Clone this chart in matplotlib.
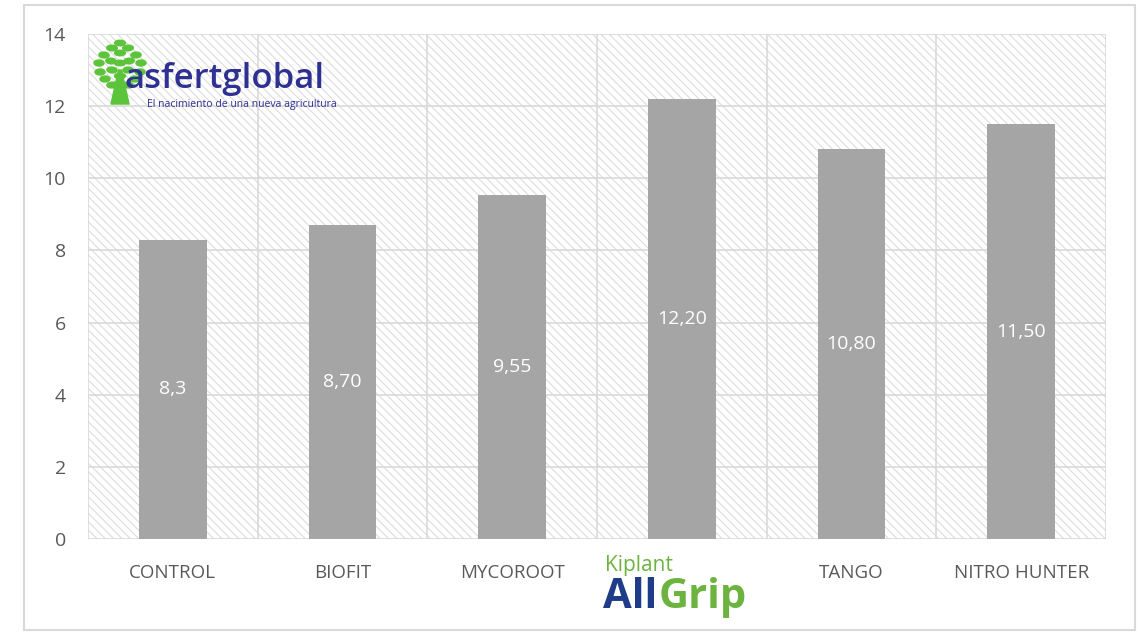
import matplotlib.pyplot as plt
from matplotlib.patches import Rectangle, Ellipse, Polygon
import numpy as np

# data
categories = ['CONTROL', 'BIOFIT', 'MYCOROOT', '', 'TANGO', 'NITRO HUNTER']
values = [8.3, 8.7, 9.55, 12.2, 10.8, 11.5]
value_labels = ['8,3', '8,70', '9,55', '12,20', '10,80', '11,50']
yticks = [0, 2, 4, 6, 8, 10, 12, 14]

plt.rcParams['font.family'] = ['Open Sans', 'DejaVu Sans']
plt.rcParams['hatch.linewidth'] = 0.8
plt.rcParams['hatch.color'] = '#dcdcdc'

fig = plt.figure(figsize=(11.45, 6.32), dpi=100)
# outer frame
fig.patches.append(Rectangle((24 / 1145, 2 / 632), 1111 / 1145, 625 / 632,
                             transform=fig.transFigure, fill=False,
                             edgecolor='#d9d9d9', linewidth=1.5))

ax = fig.add_axes([88 / 1145, 1 - 539 / 632, 1018 / 1145, 505 / 632])
x = np.arange(len(values))

# hatched background
ax.add_patch(Rectangle((-0.5, 0), len(values), 14, facecolor='white',
                       edgecolor='#dcdcdc', hatch='\\\\\\\\', linewidth=0, zorder=0))

bars = ax.bar(x, values, width=0.4, color='#a5a5a5', zorder=3)
for xi, v, lab in zip(x, values, value_labels):
    ax.text(xi, v / 2, lab, ha='center', va='center', color='white', fontsize=14, zorder=4)

ax.set_xlim(-0.5, len(values) - 0.5)
ax.set_ylim(0, 14)
ax.set_yticks(yticks)
ax.set_xticks(x)
ax.set_xticklabels(categories)
ax.set_xticks(np.arange(len(values) + 1) - 0.5, minor=True)
ax.tick_params(axis='both', which='both', length=0, colors='#595959', labelsize=13.5)
ax.tick_params(axis='x', pad=18)
ax.tick_params(axis='y', pad=16, labelsize=14)
ax.grid(axis='y', color='#d9d9d9', linewidth=1.2, zorder=1)
ax.grid(axis='x', which='minor', color='#d9d9d9', linewidth=1.2, zorder=1)
ax.set_axisbelow(True)
for s in ax.spines.values():
    s.set_visible(False)

# Kiplant AllGrip label under 4th bar
fig.text(605 / 1145, 1 - 565 / 632, 'Kiplant', color='#6db33f', fontsize=15,
         ha='left', va='center')
fig.text(603 / 1145, 1 - 598 / 632, 'All', color='#1f3c88', fontsize=30,
         fontweight='bold', ha='left', va='center')
fig.text(659 / 1145, 1 - 598 / 632, 'Grip', color='#6db33f', fontsize=30,
         fontweight='bold', ha='left', va='center')

# asfertglobal logo
fig.text(125 / 1145, 1 - 88 / 632, 'asfertglobal', color='#2e3192', fontsize=25,
         fontweight='semibold', ha='left', va='baseline')
fig.text(147 / 1145, 1 - 104 / 632, 'El nacimiento de una nueva agricultura',
         color='#2e3192', fontsize=7.5, ha='left', va='center')
leaves = [(120, 43, 90), (112, 48, 60), (128, 48, 120), (104, 55, 30), (120, 53, 90),
          (136, 55, 150), (99, 63, 10), (111, 61, 45), (129, 61, 135), (141, 63, 170),
          (100, 72, 0), (112, 70, 30), (128, 70, 150), (140, 72, 0), (105, 79, 160),
          (120, 63, 90), (135, 79, 20), (112, 85, 150), (128, 85, 30), (120, 76, 90)]
for lx, ly, ang in leaves:
    fig.patches.append(Ellipse((lx / 1145, 1 - ly / 632), 10 / 1145, 6 / 632, angle=ang,
                               transform=fig.transFigure, color='#5cc43a'))
fig.patches.append(Polygon([(118.5 / 1145, 1 - 70 / 632), (121.5 / 1145, 1 - 70 / 632),
                            (129 / 1145, 1 - 104 / 632), (111 / 1145, 1 - 104 / 632)],
                           transform=fig.transFigure, color='#5cc43a'))

fig.savefig('out.png', dpi=100)
